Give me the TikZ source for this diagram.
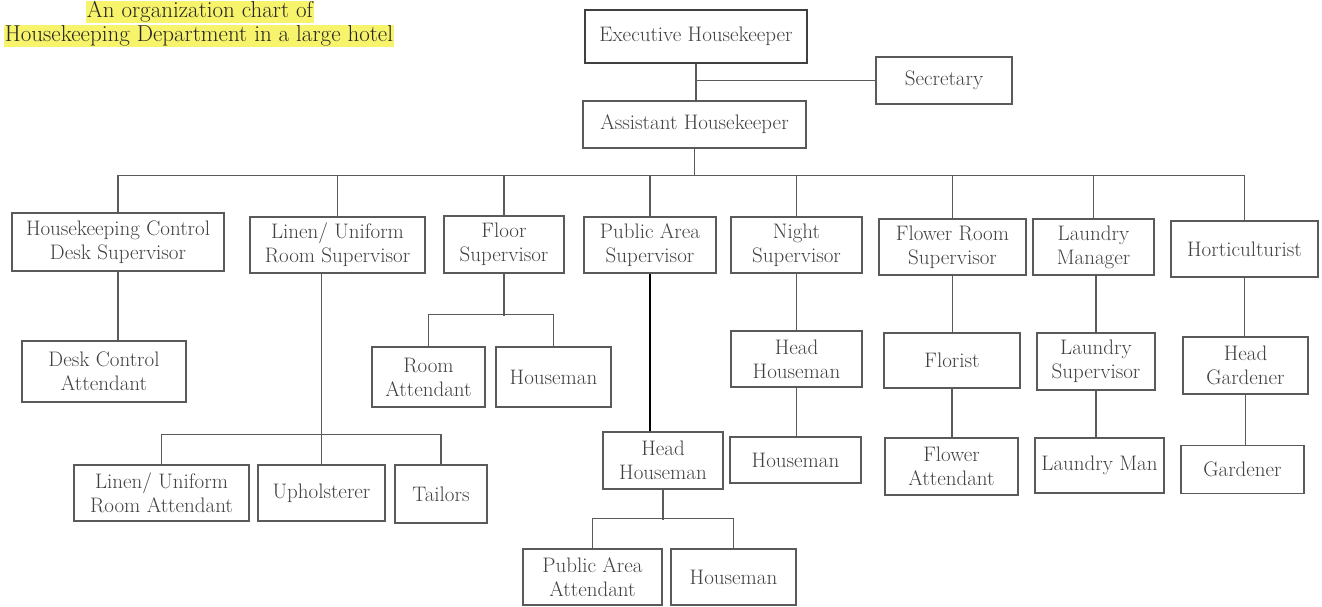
\documentclass[tikz,border=0pt]{standalone}
\usetikzlibrary{positioning}
\definecolor{boxgray}{HTML}{5A5A5A}
\definecolor{textgray}{HTML}{404040}
\definecolor{marker}{HTML}{F7F36A}
\begin{document}
\begin{tikzpicture}[x=1pt,y=-1pt,
    post/.style={draw=boxgray,line width=1.3pt,align=center,text=textgray,
      inner sep=0pt,font=\fontsize{21}{24}\selectfont},
    link/.style={draw=boxgray,line width=1.3pt},
    title/.style={fill=marker,inner xsep=1pt,inner ysep=1pt,text=black!85,
      font=\fontsize{23}{24}\selectfont}]
  \useasboundingbox (0,0) rectangle (1322,606);

  \node [title] (t1) at (200,12) {An organization chart of};
  \node [title] (t2) at (199,36) {Housekeeping Department in a large hotel};

  % top of the chart
  \node [post,line width=2pt,draw=black!75,minimum width=222,minimum height=53] (exec) at (696,36.5) {Executive Housekeeper};
  \node [post,minimum width=136,minimum height=47] (sec) at (944,80.5) {Secretary};
  \node [post,minimum width=223,minimum height=47] (asst) at (694.5,124.5) {Assistant Housekeeper};

  % supervisors
  \node [post,minimum width=212,minimum height=58] (hcd) at (118,242) {Housekeeping Control\\Desk Supervisor};
  \node [post,minimum width=175,minimum height=56] (lin) at (337.5,245) {Linen/ Uniform\\Room Supervisor};
  \node [post,minimum width=120,minimum height=57] (flr) at (504,244.5) {Floor\\Supervisor};
  \node [post,minimum width=132,minimum height=56] (pub) at (650,245) {Public Area\\Supervisor};
  \node [post,minimum width=131,minimum height=56] (ngt) at (796.5,245) {Night\\Supervisor};
  \node [post,minimum width=147,minimum height=56] (flw) at (952.5,247) {Flower Room\\Supervisor};
  \node [post,minimum width=121,minimum height=56] (lau) at (1093.5,247) {Laundry\\Manager};
  \node [post,minimum width=147,minimum height=56] (hor) at (1244.5,249) {Horticulturist};

  % second level
  \node [post,minimum width=164,minimum height=61] (dca) at (104,371.5) {Desk Control\\Attendant};
  \node [post,minimum width=113,minimum height=60] (rat) at (428.5,377) {Room\\Attendant};
  \node [post,minimum width=115,minimum height=60] (fhm) at (553.5,377) {Houseman};
  \node [post,minimum width=131,minimum height=56] (nhh) at (796.5,359) {Head\\Houseman};
  \node [post,minimum width=136,minimum height=55] (fls) at (952,360.5) {Florist};
  \node [post,minimum width=118,minimum height=57] (lsu) at (1096,361.5) {Laundry\\Supervisor};
  \node [post,minimum width=125,minimum height=57] (hgd) at (1245.5,365.5) {Head\\Gardener};

  % third level
  \node [post,minimum width=175,minimum height=56] (lra) at (161.5,493) {Linen/ Uniform\\Room Attendant};
  \node [post,minimum width=127,minimum height=56] (uph) at (321.5,493) {Upholsterer};
  \node [post,minimum width=92,minimum height=58] (tai) at (441,494) {Tailors};
  \node [post,minimum width=120,minimum height=57] (phh) at (663,460.5) {Head\\Houseman};
  \node [post,minimum width=131,minimum height=46] (nhm) at (795.5,460) {Houseman};
  \node [post,minimum width=133,minimum height=57] (fat) at (951.5,466.5) {Flower\\Attendant};
  \node [post,minimum width=129,minimum height=55] (lman) at (1099.5,465.5) {Laundry Man};
  \node [post,minimum width=123,minimum height=48] (gar) at (1242.5,469.5) {Gardener};

  % bottom
  \node [post,minimum width=139,minimum height=56] (paa) at (592.5,577) {Public Area\\Attendant};
  \node [post,minimum width=125,minimum height=56] (phm) at (733.5,577) {Houseman};

  % connectors
  \draw [link] (exec.south) -- (exec.south |- asst.north);
  \draw [link] (sec.west) -- (sec.west -| exec.south);
  \draw [link] (asst.south) -- ++(0,27) coordinate (bus);
  \foreach \n in {hcd,lin,flr,pub,ngt,flw,lau,hor}
    \draw [link] (\n.north) |- (bus);

  \draw [link] (hcd.south) -- (hcd.south |- dca.north);

  \draw [link] (uph.north |- lin.south) -- (uph.north);
  \draw [link] (lra.north) -- ++(0,-30) -| (tai.north);

  \draw [link] (flr.south) -- ++(0,42);
  \draw [link] (rat.north) -- ++(0,-32) -| (fhm.north);

  \draw [black,line width=1.4pt] (pub.south) -- (pub.south |- phh.north);
  \draw [link] (phh.south) -- ++(0,30);
  \draw [link] (paa.north) -- ++(0,-30) -| (phm.north);

  \draw [link] (ngt.south) -- (ngt.south |- nhh.north);
  \draw [link] (nhh.south) -- (nhh.south |- nhm.north);
  \draw [link] (flw.south) -- (flw.south |- fls.north);
  \draw [link] (fls.south) -- (fls.south |- fat.north);
  \draw [link] (lsu.north |- lau.south) -- (lsu.north);
  \draw [link] (lsu.south) -- (lsu.south |- lman.north);
  \draw [link] (hor.south) -- (hor.south |- hgd.north);
  \draw [link] (hgd.south) -- (hgd.south |- gar.north);
\end{tikzpicture}
\end{document}
